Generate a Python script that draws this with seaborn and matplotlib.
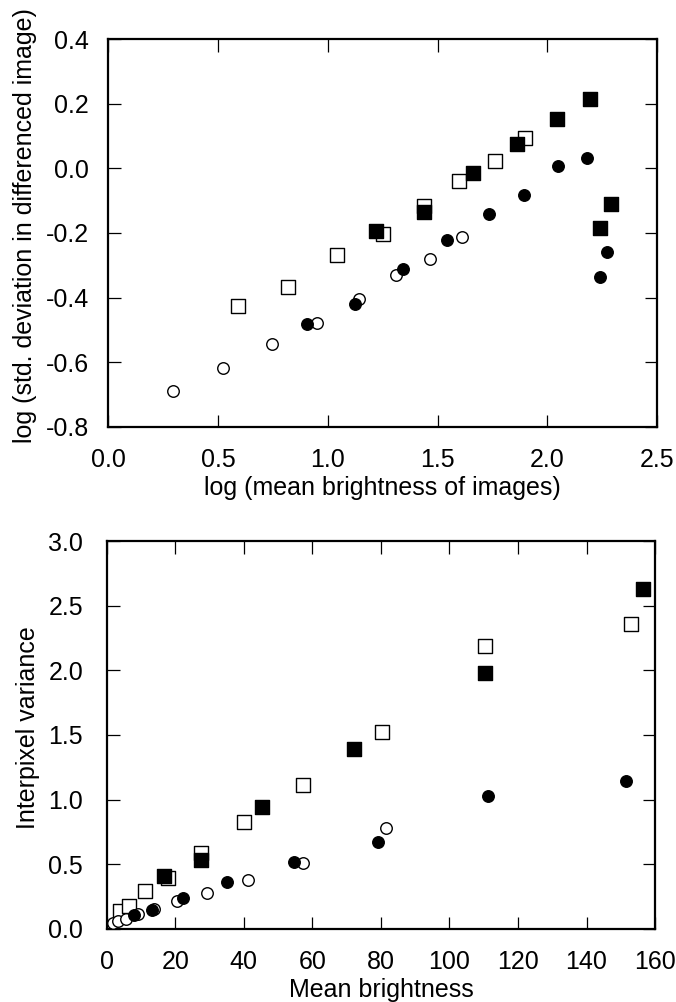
import matplotlib
matplotlib.use("Agg")
import matplotlib.pyplot as plt
import seaborn as sns
import pandas as pd

# ---- Top panel data: log(mean brightness) vs log(std. deviation) ----
top_open_sq_x = [0.59, 0.82, 1.04, 1.25, 1.44, 1.60, 1.76, 1.90]
top_open_sq_y = [-0.426, -0.367, -0.268, -0.203, -0.117, -0.039, 0.023, 0.094]
top_fill_sq_x = [1.22, 1.44, 1.66, 1.86, 2.045, 2.195, 2.29, 2.24]
top_fill_sq_y = [-0.194, -0.135, -0.014, 0.075, 0.152, 0.214, -0.110, -0.185]
top_open_ci_x = [0.296, 0.524, 0.747, 0.952, 1.143, 1.31, 1.466, 1.612]
top_open_ci_y = [-0.689, -0.618, -0.543, -0.478, -0.404, -0.330, -0.280, -0.212]
top_fill_ci_x = [0.906, 1.125, 1.343, 1.544, 1.735, 1.894, 2.049, 2.18, 2.272, 2.24]
top_fill_ci_y = [-0.481, -0.420, -0.311, -0.222, -0.141, -0.083, 0.007, 0.032, -0.259, -0.336]

# ---- Bottom panel data: mean brightness vs interpixel variance ----
bot_open_sq_x = [3.8, 6.6, 11.2, 17.8, 27.4, 40.0, 57.2, 80.3, 110.4, 153.0]
bot_open_sq_y = [0.14, 0.18, 0.29, 0.39, 0.585, 0.83, 1.11, 1.52, 2.19, 2.355]
bot_fill_sq_x = [16.6, 27.5, 45.3, 72.1, 110.4, 156.5]
bot_fill_sq_y = [0.41, 0.535, 0.94, 1.39, 1.98, 2.63]
bot_open_ci_x = [1.9, 3.3, 5.6, 9.2, 13.9, 20.5, 29.3, 41.1, 57.2, 81.5]
bot_open_ci_y = [0.046, 0.062, 0.08, 0.115, 0.156, 0.218, 0.274, 0.375, 0.508, 0.777]
bot_fill_ci_x = [7.9, 13.3, 22.1, 35.2, 54.5, 79.2, 111.2, 151.5]
bot_fill_ci_y = [0.108, 0.146, 0.236, 0.36, 0.515, 0.675, 1.03, 1.146]

top_xticks = [0.0, 0.5, 1.0, 1.5, 2.0, 2.5]
top_yticks = [-0.8, -0.6, -0.4, -0.2, 0.0, 0.2, 0.4]
bot_xticks = [0, 20, 40, 60, 80, 100, 120, 140, 160]
bot_yticks = [0.0, 0.5, 1.0, 1.5, 2.0, 2.5, 3.0]

sns.set_theme(style="ticks")
plt.rcParams['font.family'] = ['Liberation Sans', 'DejaVu Sans']
plt.rcParams['text.color'] = 'black'
plt.rcParams['axes.labelcolor'] = 'black'

fig = plt.figure(figsize=(6.76, 10.02), dpi=100)
ax1 = fig.add_axes([0.160, 0.574, 0.812, 0.387])
ax2 = fig.add_axes([0.158, 0.073, 0.811, 0.387])

SQ = 9.5
CI = 8.3

def draw(ax, xs, ys, marker, filled, size):
    df = pd.DataFrame({"x": xs, "y": ys})
    sns.scatterplot(data=df, x="x", y="y", ax=ax, marker=marker,
                    color="black" if filled else "white",
                    edgecolor="black", linewidth=1.0, s=size**2, zorder=3,
                    legend=False)

for ax, data in [
    (ax1, [(top_open_sq_x, top_open_sq_y, 's', False, SQ),
           (top_open_ci_x, top_open_ci_y, 'o', False, CI),
           (top_fill_sq_x, top_fill_sq_y, 's', True, SQ),
           (top_fill_ci_x, top_fill_ci_y, 'o', True, CI)]),
    (ax2, [(bot_open_sq_x, bot_open_sq_y, 's', False, SQ),
           (bot_open_ci_x, bot_open_ci_y, 'o', False, CI),
           (bot_fill_sq_x, bot_fill_sq_y, 's', True, SQ),
           (bot_fill_ci_x, bot_fill_ci_y, 'o', True, CI)])]:
    for xs, ys, m, f, s in data:
        draw(ax, xs, ys, m, f, s)

TICK = 18

ax1.set_xlim(0, 2.5)
ax1.set_ylim(-0.8, 0.4)
ax1.set_xticks(top_xticks)
ax1.set_xticklabels([f"{v:.1f}" for v in top_xticks])
ax1.set_yticks(top_yticks)
ax1.set_yticklabels([f"{v:.1f}" for v in top_yticks])
ax1.set_xlabel("log (mean brightness of images)", fontsize=18, labelpad=3, color='black')
ax1.set_ylabel("log (std. deviation in differenced image)", fontsize=18,
               labelpad=6, color='black', y=0.52)

ax2.set_xlim(0, 160)
ax2.set_ylim(0, 3.0)
ax2.set_xticks(bot_xticks)
ax2.set_xticklabels([str(v) for v in bot_xticks])
ax2.set_yticks(bot_yticks)
ax2.set_yticklabels([f"{v:.1f}" for v in bot_yticks])
ax2.set_xlabel("Mean brightness", fontsize=18, labelpad=3, color='black')
ax2.set_ylabel("Interpixel variance", fontsize=18, labelpad=6, color='black', y=0.52)

for ax, ypad in ((ax1, 14), (ax2, 17)):
    ax.tick_params(direction='in', length=9, width=0.9, top=True, right=True,
                   labelsize=TICK, colors='black', labelcolor='black')
    ax.tick_params(axis='x', pad=15)
    ax.tick_params(axis='y', pad=ypad)
    for sp in ax.spines.values():
        sp.set_visible(True)
        sp.set_linewidth(1.6)
        sp.set_color('black')
    ax.set_facecolor('white')

fig.savefig("out.png", dpi=100, facecolor='white')
